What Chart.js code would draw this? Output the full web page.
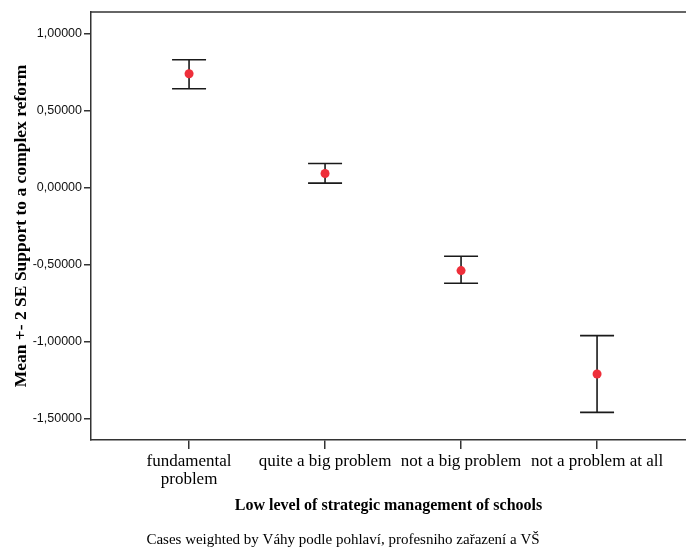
<!DOCTYPE html>
<html>
<head>
<meta charset="utf-8">
<script src="https://cdn.jsdelivr.net/npm/chart.js@4.4.1/dist/chart.umd.min.js"></script>
<style>
  body { margin: 0; background: #fff; }
  #wrap { width: 686px; height: 548px; }
</style>
</head>
<body>
<div id="wrap"><canvas id="meanChart" width="686" height="548"></canvas></div>
<script>
// data
const categories = [['fundamental', 'problem'], 'quite a big problem', 'not a big problem', 'not a problem at all'];
const means = [0.740, 0.093, -0.537, -1.208];
const upper = [0.831, 0.158, -0.444, -0.959];
const lower = [0.643, 0.031, -0.619, -1.457];
const yTicks = [-1.5, -1.0, -0.5, 0, 0.5, 1.0];

const frameColor = '#333';
const serif = '"Liberation Serif", "Times New Roman", serif';

// top edge of the frame (left and bottom come from the axes)
const framePlugin = {
    id: 'frame',
    beforeDraw(chart) {
        const { ctx, chartArea: a } = chart;
        ctx.save();
        ctx.strokeStyle = frameColor;
        ctx.lineWidth = 1.5;
        ctx.beginPath();
        ctx.moveTo(a.left, a.top);
        ctx.lineTo(a.right, a.top);
        ctx.stroke();
        ctx.restore();
    }
};

// error bars (mean +- 2 SE), drawn under the points
const errorBarPlugin = {
    id: 'errorBars',
    beforeDatasetsDraw(chart) {
        const { ctx, scales: { x, y } } = chart;
        const cap = 17;
        ctx.save();
        ctx.strokeStyle = '#1a1a1a';
        ctx.lineWidth = 1.6;
        means.forEach((m, i) => {
            const px = x.getPixelForValue(i + 1);
            const top = y.getPixelForValue(upper[i]);
            const bot = y.getPixelForValue(lower[i]);
            ctx.beginPath();
            ctx.moveTo(px, top); ctx.lineTo(px, bot);
            ctx.moveTo(px - cap, top); ctx.lineTo(px + cap, top);
            ctx.moveTo(px - cap, bot); ctx.lineTo(px + cap, bot);
            ctx.stroke();
        });
        ctx.restore();
    }
};

const ctx = document.getElementById('meanChart').getContext('2d');
const meanChart = new Chart(ctx, {
    type: 'scatter',
    data: {
        datasets: [{
            data: means.map((m, i) => ({ x: i + 1, y: m })),
            backgroundColor: '#ee2f3a',
            borderWidth: 0,
            pointRadius: 4.5
        }]
    },
    options: {
        responsive: false,
        animation: false,
        layout: { autoPadding: false, padding: { top: 12, left: 0, right: 0, bottom: 0 } },
        plugins: {
            legend: { display: false },
            tooltip: { enabled: false },
            title: {
                display: true,
                position: 'bottom',
                text: 'Cases weighted by Váhy podle pohlaví, profesniho zařazení a VŠ',
                color: '#000',
                font: { family: serif, size: 15, weight: 'normal', lineHeight: 1.0 },
                padding: { top: 0, bottom: 0 }
            }
        },
        scales: {
            x: {
                type: 'linear',
                min: 0.279,
                max: 4.654,
                afterBuildTicks: s => { s.ticks = categories.map((c, i) => ({ value: i + 1 })); },
                afterFit: s => { s.height = 93; s.paddingLeft = 0; s.paddingRight = 0; },
                grid: { drawOnChartArea: false, drawTicks: true, tickLength: 9, color: frameColor, lineWidth: 1.5 },
                border: { display: true, color: frameColor, width: 1.5 },
                ticks: {
                    color: '#000',
                    padding: 4,
                    maxRotation: 0,
                    autoSkip: false,
                    font: { family: serif, size: 17, lineHeight: 1.05 },
                    callback: (v) => categories[v - 1]
                },
                title: {
                    display: true,
                    text: 'Low level of strategic management of schools',
                    color: '#000',
                    font: { family: serif, size: 16, weight: 'bold' },
                    padding: { top: 0, bottom: 17.4 }
                }
            },
            y: {
                min: -1.636,
                max: 1.141,
                afterBuildTicks: s => { s.ticks = yTicks.map(v => ({ value: v })); },
                afterFit: s => { s.width = 91; },
                grid: { drawOnChartArea: false, drawTicks: true, tickLength: 7, color: frameColor, lineWidth: 1.5 },
                border: { display: true, color: frameColor, width: 1.5 },
                ticks: {
                    color: '#111',
                    padding: 2,
                    font: { family: '"Liberation Sans", sans-serif', size: 12.5 },
                    callback: (v) => v.toFixed(5).replace('.', ',')
                },
                title: {
                    display: true,
                    text: 'Mean +- 2 SE Support to a complex reform',
                    color: '#000',
                    font: { family: serif, size: 17.5, weight: 'bold' },
                    padding: { top: 10.5, bottom: 0 }
                }
            }
        }
    },
    plugins: [framePlugin, errorBarPlugin]
});
</script>
</body>
</html>
